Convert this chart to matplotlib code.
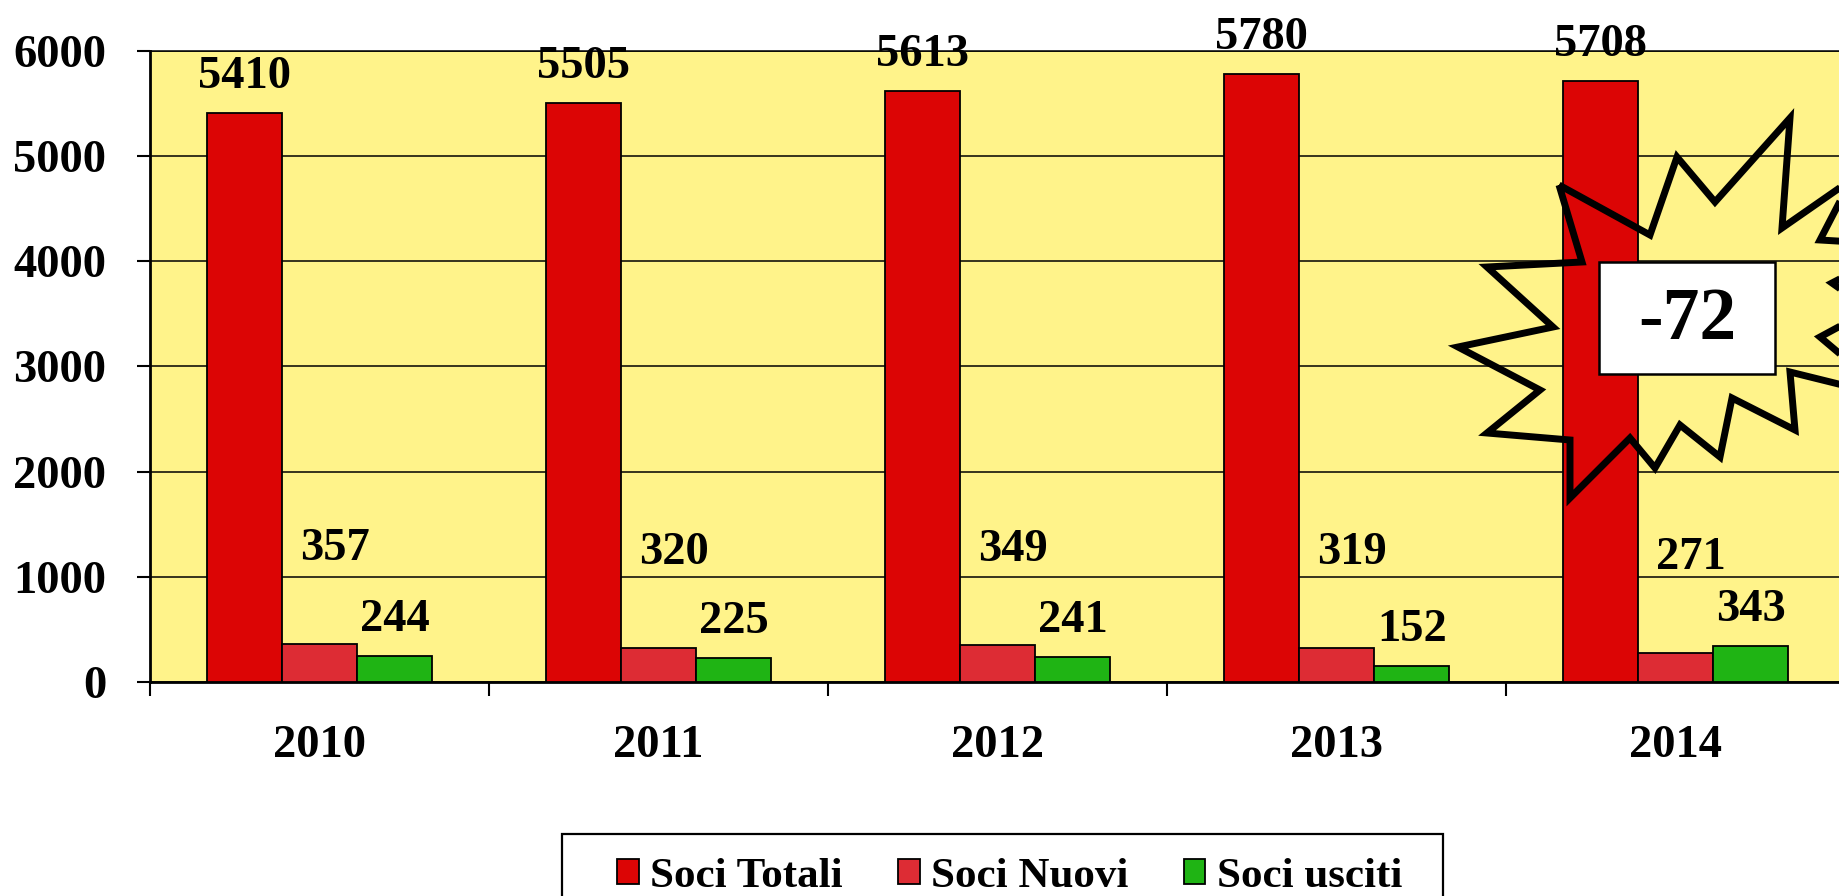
import matplotlib
matplotlib.use("Agg")
import matplotlib.pyplot as plt
from matplotlib.patches import Polygon, Rectangle
import numpy as np

# ---------------- data ----------------
years = ["2010", "2011", "2012", "2013", "2014"]
soci_totali = [5410, 5505, 5613, 5780, 5708]
soci_nuovi = [357, 320, 349, 319, 271]
soci_usciti = [244, 225, 241, 152, 343]
series_names = ["Soci Totali", "Soci Nuovi", "Soci usciti"]
y_ticks = [0, 1000, 2000, 3000, 4000, 5000, 6000]
callout_text = "-72"

# ---------------- style ----------------
W, H = 1839, 896
YELLOW = "#FFF38A"
colors = ["#DC0505", "#DD2C34", "#1FB414"]
SERIF = "Liberation Serif"

fig = plt.figure(figsize=(W / 100, H / 100), dpi=100)
ax = fig.add_axes([150 / W, (H - 682) / H, (1845 - 150) / W, 631.3 / H])
ax.set_facecolor(YELLOW)

x = np.arange(len(years))
bw = 0.222
series = [soci_totali, soci_nuovi, soci_usciti]
handles = []
for k, (vals, col, name) in enumerate(zip(series, colors, series_names)):
    b = ax.bar(x + (k - 1) * bw, vals, bw, color=col, edgecolor="black",
               linewidth=1.3, label=name, zorder=3)
    handles.append(b)

ax.set_xlim(-0.5, len(years) - 0.5)
ax.set_ylim(0, 6000)
ax.set_yticks(y_ticks)
ax.set_yticklabels([str(t) for t in y_ticks], fontsize=33.5, fontweight="bold",
                   family=SERIF)
ax.yaxis.grid(True, color="black", linewidth=1.1)
ax.set_axisbelow(True)

ax.set_xticks(np.arange(-0.5, len(years), 1.0))
ax.set_xticklabels([])
ax.set_xticks(x, minor=True)
ax.set_xticklabels(years, minor=True, fontsize=33.5, fontweight="bold", family=SERIF)
ax.tick_params(axis="x", which="major", direction="out", length=10, width=1.5)
ax.tick_params(axis="x", which="minor", length=0, pad=31)
ax.tick_params(axis="y", direction="out", length=9.4, width=1.5, pad=22)

for s in ["left", "bottom"]:
    ax.spines[s].set_linewidth(2.0)
ax.spines["top"].set_linewidth(1.1)
ax.spines["right"].set_visible(False)

# value labels
for k, vals in enumerate(series):
    for i, v in enumerate(vals):
        if k == 1:
            dx, dy = 11, 61
        else:
            dx, dy = 0, 18
        ax.annotate(str(v), (x[i] + (k - 1) * bw, v), xytext=(dx, dy),
                    textcoords="offset points", ha="center", va="baseline",
                    fontsize=33.5, fontweight="bold", family=SERIF, zorder=5)

# ---------------- starburst callout ----------------
star_px = [
    (1559, 185), (1650, 235), (1677, 157), (1715, 202), (1790, 118),
    (1782, 228), (1851, 180), (1820, 240), (1905, 245), (1832, 283),
    (1870, 310), (1820, 337), (1891, 397), (1790, 372), (1795, 430),
    (1732, 398), (1720, 457), (1680, 425), (1655, 468), (1630, 438),
    (1570, 498), (1570, 440), (1487, 433), (1540, 390), (1458, 347),
    (1553, 327), (1487, 267), (1582, 262),
]
star_fig = [(px / W, 1 - py / H) for px, py in star_px]
fig.add_artist(Polygon(star_fig, closed=True, fill=False, edgecolor="black",
                       linewidth=5, joinstyle="miter", transform=fig.transFigure,
                       zorder=10))
fig.add_artist(Rectangle((1599 / W, 1 - 374 / H), (1775 - 1599) / W, (374 - 262) / H,
                         facecolor="white", edgecolor="black", linewidth=1.8,
                         transform=fig.transFigure, zorder=11))
fig.text(1687 / W, 1 - 321 / H, callout_text, ha="center", va="center",
         fontsize=53, fontweight="bold", family=SERIF, zorder=12)

# ---------------- legend ----------------
fig.add_artist(Rectangle((562 / W, -4 / H), (1443 - 562) / W, (900 - 834) / H,
                         facecolor="white", edgecolor="black", linewidth=1.6,
                         transform=fig.transFigure, zorder=1))
leg = fig.legend(handles, series_names, loc="center",
                 bbox_to_anchor=(1009.5 / W, 1 - 877 / H), ncol=3, frameon=False,
                 prop={"family": SERIF, "weight": "bold", "size": 31},
                 handlelength=0.51, handleheight=0.53, handletextpad=0.26,
                 columnspacing=1.28, borderpad=0)
leg.set_zorder(2)

fig.savefig("out.png", dpi=100)
